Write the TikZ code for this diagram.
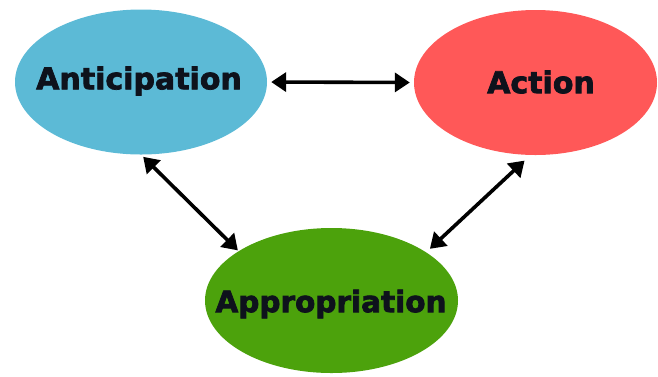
\documentclass[tikz,border=0pt]{standalone}
\usepackage{fontspec}
\setmainfont{DejaVu Sans}
\newfontfamily\heavyfont{DejaVu Sans Bold}[FakeBold=2.4]
\usetikzlibrary{shapes.geometric,arrows.meta}
\definecolor{anticblue}{RGB}{92,186,214}
\definecolor{actionred}{RGB}{255,88,88}
\definecolor{approgreen}{RGB}{76,162,12}
\definecolor{textnavy}{RGB}{14,18,28}
\begin{document}
\begin{tikzpicture} [x=1pt, y=-1pt]
\tikzstyle{blob}=[shape=ellipse, inner sep=0pt, minimum width=252pt, minimum height=145pt];
\tikzstyle{word}=[font=\fontsize{30}{30}\heavyfont, text=textnavy];
\tikzstyle{link}=[line width=3.6pt, {Triangle[length=15pt,width=19pt]}-{Triangle[length=15pt,width=19pt]}, shorten <=4pt, shorten >=4pt];
\useasboundingbox (0,0) rectangle (658,376);
\node [blob, fill=anticblue] (antic) at (141,82) {};
\node [blob, fill=actionred, minimum width=243pt] (action) at (535.5,82.5) {};
\node [blob, fill=approgreen, minimum width=253pt] (approp) at (331.5,300.5) {};
\node [word] (anticText) at (139,81) {Anticipation};
\node [word] (actionText) at (541,82) {Action};
\node [word, font=\fontsize{29.5}{30}\heavyfont] (appropText) at (331,304) {Appropriation};
\draw [link] (antic.east) -- (action.west); % top pair
\draw [link, shorten <=3pt, shorten >=1pt] (antic.south) -- (approp.152);
\draw [link, shorten <=5pt, shorten >=8pt] (approp.27) -- (action.266);
\end{tikzpicture}
\end{document}
